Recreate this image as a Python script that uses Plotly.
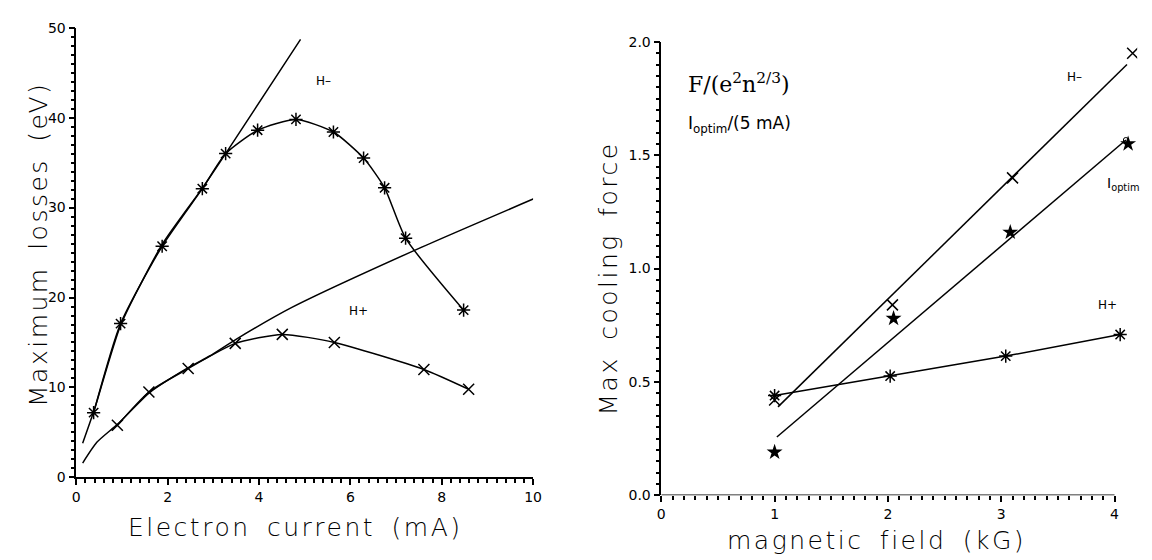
import plotly.graph_objects as go

# left panel: maximum losses vs electron current
cur_hminus = [0.38, 0.97, 1.88, 2.76, 3.27, 3.97, 4.81, 5.63, 6.29, 6.75, 7.21, 8.48]
loss_hminus = [7.2, 17.1, 25.7, 32.1, 36.0, 38.6, 39.8, 38.4, 35.5, 32.2, 26.6, 18.6]

cur_hplus = [0.90, 1.59, 2.45, 3.48, 4.51, 5.65, 7.61, 8.59]
loss_hplus = [5.8, 9.5, 12.1, 14.9, 15.9, 15.0, 12.0, 9.8]

theory_hminus_cur = [0.14, 0.40, 0.97, 1.88, 2.78, 3.27, 4.91]
theory_hminus_loss = [3.8, 7.6, 16.9, 25.9, 32.3, 36.0, 48.7]

theory_hplus_cur = [0.14, 0.45, 0.90, 1.60, 2.45, 2.92, 3.48, 4.72, 7.43, 10.21]
theory_hplus_loss = [1.6, 3.9, 5.9, 9.4, 12.2, 13.5, 15.3, 18.9, 25.3, 31.4]

# right panel: max cooling force vs magnetic field
field_hminus = [1.0, 2.04, 3.10, 4.16]
force_hminus = [0.42, 0.84, 1.40, 1.95]

field_hplus = [1.0, 2.02, 3.04, 4.05]
force_hplus = [0.44, 0.526, 0.614, 0.709]

field_iopt = [1.0, 2.05, 3.08, 4.12]
iopt = [0.19, 0.78, 1.16, 1.55]

fit_hminus_field = [1.03, 4.11]
fit_hminus_force = [0.39, 1.90]

fit_iopt_field = [1.02, 4.10]
fit_iopt = [0.257, 1.567]

W, H = 1152, 560
tick_font = dict(family='DejaVu Sans', size=14, color='black')
title_font = dict(family='DejaVu Sans', size=25, color='black', weight=300)


def spaced(txt, ls=2.5, ws=6):
    return '<span style="letter-spacing:%spx;word-spacing:%spx">%s</span>' % (ls, ws, txt)


fig = go.Figure()

line = dict(color='black', width=1.5)
curve = dict(color='black', width=1.5, shape='spline', smoothing=0.6)

fig.add_trace(go.Scatter(x=theory_hminus_cur, y=theory_hminus_loss, mode='lines', line=curve))
fig.add_trace(go.Scatter(x=theory_hplus_cur, y=theory_hplus_loss, mode='lines', line=curve))
fig.add_trace(go.Scatter(x=cur_hminus, y=loss_hminus, mode='lines+markers', line=curve,
                         marker=dict(symbol='asterisk-open', size=11, color='black',
                                     line=dict(color='black', width=1.5))))
fig.add_trace(go.Scatter(x=cur_hplus, y=loss_hplus, mode='lines+markers', line=curve,
                         marker=dict(symbol='x-thin-open', size=11, color='black',
                                     line=dict(color='black', width=1.5))))

fig.add_trace(go.Scatter(x=fit_hminus_field, y=fit_hminus_force, mode='lines', line=line,
                         xaxis='x2', yaxis='y2'))
fig.add_trace(go.Scatter(x=fit_iopt_field, y=fit_iopt, mode='lines', line=line,
                         xaxis='x2', yaxis='y2'))
fig.add_trace(go.Scatter(x=fit_iopt_field[-1:], y=fit_iopt[-1:], mode='markers',
                         marker=dict(symbol='circle-open', size=5, color='black',
                                     line=dict(color='black', width=1)),
                         xaxis='x2', yaxis='y2'))
fig.add_trace(go.Scatter(x=field_hplus, y=force_hplus, mode='lines+markers', line=line,
                         marker=dict(symbol='asterisk-open', size=11, color='black',
                                     line=dict(color='black', width=1.5)),
                         xaxis='x2', yaxis='y2'))
fig.add_trace(go.Scatter(x=field_hminus, y=force_hminus, mode='markers',
                         marker=dict(symbol='x-thin-open', size=11, color='black',
                                     line=dict(color='black', width=1.5)),
                         xaxis='x2', yaxis='y2'))
fig.add_trace(go.Scatter(x=field_iopt, y=iopt, mode='markers',
                         marker=dict(symbol='star', size=12, color='black'),
                         xaxis='x2', yaxis='y2'))

axis_common = dict(linecolor='black', linewidth=1.5, showgrid=False,
                   zeroline=False, ticks='outside', ticklen=6, tickwidth=1.5,
                   tickcolor='black', tickfont=tick_font)

# right x axis is drawn a little wider than 4 kG so the last points show;
# its line and minor ticks stop at 4
px_per_kg = 114.6
x2_left = 656.7
x2_max = 4.2

fig.update_layout(
    width=W, height=H,
    margin=dict(l=0, r=0, t=0, b=0),
    paper_bgcolor='white', plot_bgcolor='white',
    showlegend=False,
    xaxis=dict(domain=[65 / W, 527 / W], range=[0, 10], dtick=2, anchor='y', showline=True,
               minor=dict(dtick=0.2, ticks='outside', ticklen=4, tickcolor='black'),
               **axis_common),
    yaxis=dict(domain=[(H - 475) / H, (H - 12) / H], range=[0, 50], dtick=10, anchor='x',
               showline=True,
               minor=dict(dtick=1, ticks='outside', ticklen=4, tickcolor='black'),
               **axis_common),
    xaxis2=dict(domain=[x2_left / W, (x2_left + x2_max * px_per_kg) / W], range=[0, x2_max],
                tickvals=[0, 1, 2, 3, 4], anchor='y2', showline=False,
                minor=dict(tickvals=[i / 10 for i in range(41)], ticks='outside', ticklen=4,
                           tickcolor='black'),
                **axis_common),
    yaxis2=dict(domain=[(H - 493.4) / H, (H - 26.6) / H], range=[0, 2], dtick=0.5,
                tickformat='.1f', anchor='x2', showline=True,
                minor=dict(dtick=0.05, ticks='outside', ticklen=4, tickcolor='black'),
                **axis_common),
)

fig.add_shape(type='line', xref='x2', yref='y2', x0=0, x1=4, y0=0, y1=0,
              line=dict(color='black', width=1.5))

ann = [
    # axis titles
    dict(text=spaced('Maximum losses (eV)'), x=27 / W, y=1 - 235 / H, textangle=-90),
    dict(text=spaced('Electron current (mA)'), x=287 / W, y=1 - 527 / H),
    dict(text=spaced('Max cooling force'), x=603 / W, y=1 - 270 / H, textangle=-90),
    dict(text=spaced('magnetic field (kG)'), x=874 / W, y=1 - 540 / H),
]
for a in ann:
    a.update(xref='paper', yref='paper', showarrow=False, font=title_font,
             xanchor='center', yanchor='middle')
    fig.add_annotation(**a)

# curve labels
label_font = dict(family='DejaVu Sans', size=12, color='black')
fig.add_annotation(x=5.41, y=44.1, xref='x', yref='y', text='H\u2013', showarrow=False,
                   font=label_font)
fig.add_annotation(x=6.17, y=18.5, xref='x', yref='y', text='H+', showarrow=False,
                   font=label_font)
fig.add_annotation(x=(1074.6 - x2_left) / px_per_kg, y=(493.4 - 63.3) / 233.4,
                   xref='x2', yref='y2', text='H\u2013', showarrow=False, font=label_font)
fig.add_annotation(x=(1108 - x2_left) / px_per_kg, y=(493.4 - 298) / 233.4,
                   xref='x2', yref='y2', text='H+', showarrow=False, font=label_font)
fig.add_annotation(x=(1124 - x2_left) / px_per_kg, y=(493.4 - 173) / 233.4,
                   xref='x2', yref='y2', text='I<sub>optim</sub>', showarrow=False,
                   font=dict(family='DejaVu Sans', size=14, color='black'))

fig.add_annotation(x=682 / W, y=1 - 53 / H, xref='paper', yref='paper', xanchor='left',
                   text='F/(e<sup>2</sup>n<sup>2/3</sup>)', showarrow=False,
                   font=dict(family='DejaVu Serif', size=22, color='black'))
fig.add_annotation(x=682 / W, y=1 - 98 / H, xref='paper', yref='paper', xanchor='left',
                   text='I<sub>optim</sub>/(5 mA)', showarrow=False,
                   font=dict(family='DejaVu Sans', size=17, color='black'))

fig.write_html("out.html")
